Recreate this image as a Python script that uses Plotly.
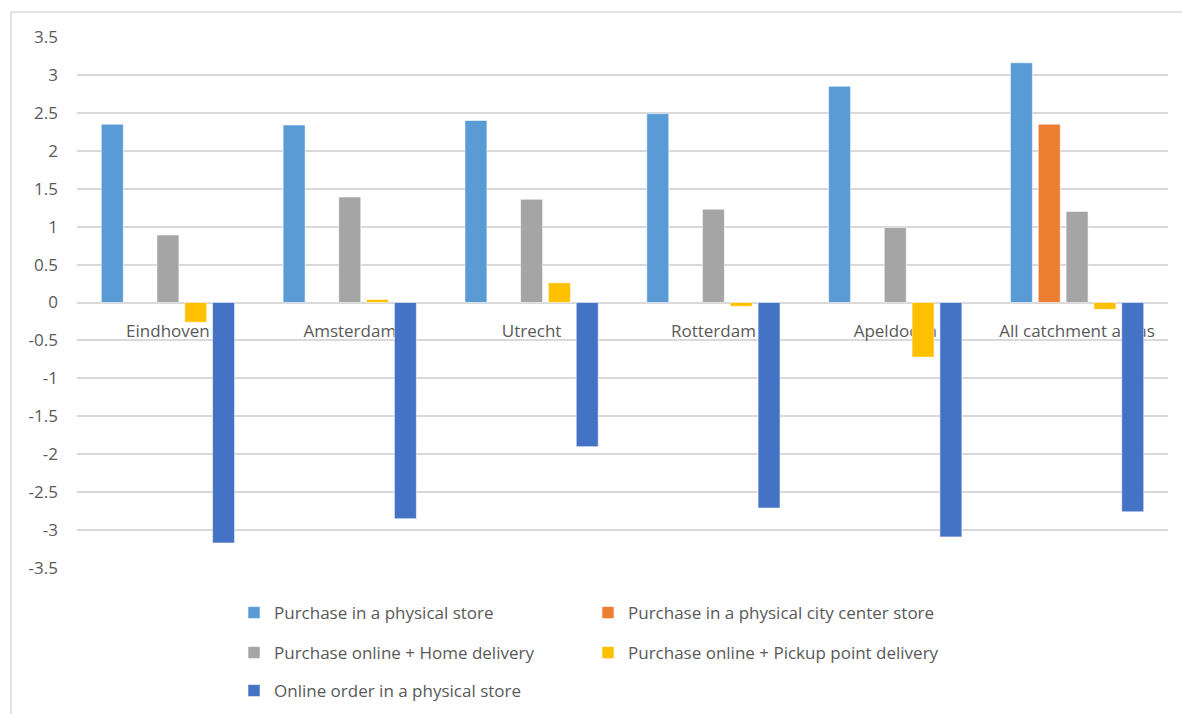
import plotly.graph_objects as go

# Catchment areas shown along the horizontal axis
areas = ["Eindhoven", "Amsterdam", "Utrecht", "Rotterdam", "Apeldoorn", "All catchment areas"]

# Coefficients per purchase channel
physical_store = [2.35, 2.34, 2.40, 2.49, 2.85, 3.16]
city_center_store = [None, None, None, None, None, 2.35]
online_home_delivery = [0.89, 1.39, 1.36, 1.23, 0.99, 1.20]
online_pickup_point = [-0.26, 0.04, 0.26, -0.05, -0.72, -0.09]
online_order_in_store = [-3.17, -2.85, -1.90, -2.71, -3.09, -2.76]

series_names = [
    "Purchase in a physical store",
    "Purchase in a physical city center store",
    "Purchase online + Home delivery",
    "Purchase online + Pickup point delivery",
    "Online order in a physical store",
]
series_values = [physical_store, city_center_store, online_home_delivery,
                 online_pickup_point, online_order_in_store]
series_colors = ["#5B9BD5", "#ED7D31", "#A5A5A5", "#FFC000", "#4472C4"]
series_legends = ["legend", "legend", "legend2", "legend2", "legend3"]

y_ticks = [3.5, 3, 2.5, 2, 1.5, 1, 0.5, 0, -0.5, -1, -1.5, -2, -2.5, -3, -3.5]
y_tick_text = ["3.5", "3", "2.5", "2", "1.5", "1", "0.5", "0",
               "-0.5", "-1", "-1.5", "-2", "-2.5", "-3", "-3.5"]

FONT = "Open Sans"
TEXT = "#595959"
GRID = "#D9D9D9"

W, H = 1182, 714
ML, MR, MT, MB = 77, 14, 37, 146
PW, PH = W - ML - MR, H - MT - MB

fig = go.Figure()
for name, vals, col, lg in zip(series_names, series_values, series_colors, series_legends):
    fig.add_trace(go.Bar(
        x=areas, y=vals, name=name, legend=lg,
        marker=dict(color=col, line=dict(color="rgba(255,255,255,0.55)", width=1)),
    ))


def px_x(px):
    return (px - ML) / PW


def px_y(py):
    return (H - MB - py) / PH


legend_common = dict(
    orientation="h", xanchor="left", yanchor="middle",
    xref="container", yref="container",
    font=dict(family=FONT, size=17, color=TEXT),
    bgcolor="rgba(0,0,0,0)", entrywidth=309, itemwidth=30,
    traceorder="normal",
)

fig.update_layout(
    width=W, height=H,
    margin=dict(l=ML, r=MR, t=MT, b=MB, autoexpand=False),
    paper_bgcolor="white", plot_bgcolor="white",
    barmode="group", bargap=0.235, bargroupgap=0.21,
    font=dict(family=FONT, size=17, color=TEXT),
    showlegend=True,
    legend=dict(x=234 / W, y=1 - 613 / H, **legend_common),
    legend2=dict(x=234 / W, y=1 - 653 / H, **legend_common),
    legend3=dict(x=234 / W, y=1 - 691 / H, **legend_common),
    xaxis=dict(
        anchor="free", position=0.5, layer="below traces",
        showgrid=False, showline=False, ticks="",
        ticklabelstandoff=16,
        tickfont=dict(family=FONT, size=17, color=TEXT),
    ),
    yaxis=dict(
        range=[-3.5, 3.5], tickvals=y_ticks, ticktext=y_tick_text,
        showgrid=True, gridcolor=GRID, gridwidth=1.5,
        zeroline=True, zerolinecolor=GRID, zerolinewidth=1.5,
        showline=False, ticks="", ticklabelstandoff=18,
        tickfont=dict(family=FONT, size=17, color=TEXT),
    ),
    shapes=[
        # chart frame (top and left edges)
        dict(type="line", xref="paper", yref="paper",
             x0=px_x(11), x1=px_x(W + 5), y0=px_y(12), y1=px_y(12),
             line=dict(color=GRID, width=1.5)),
        dict(type="line", xref="paper", yref="paper",
             x0=px_x(11), x1=px_x(11), y0=px_y(12), y1=px_y(H + 5),
             line=dict(color=GRID, width=1.5)),
    ],
)

fig.write_html("out.html")
